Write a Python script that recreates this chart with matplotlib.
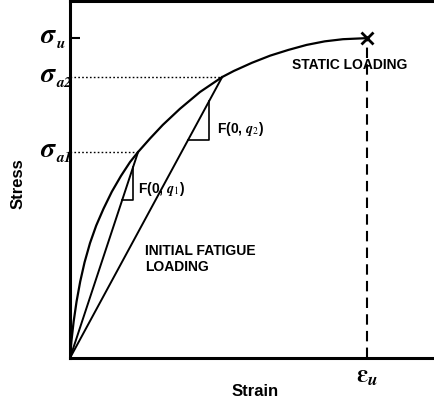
import matplotlib
matplotlib.use("Agg")
import matplotlib.pyplot as plt

plt.rcParams['font.family'] = ['Liberation Sans', 'DejaVu Sans']
plt.rcParams['mathtext.fontset'] = 'stix'

# Static loading curve (normalised strain / stress)
strain_static = [0.0, 0.004, 0.010, 0.018, 0.028, 0.040, 0.055, 0.072, 0.092, 0.115,
                 0.140, 0.165, 0.187, 0.220, 0.255, 0.302, 0.357, 0.418, 0.45,
                 0.50, 0.55, 0.60, 0.65, 0.70, 0.75, 0.816]
stress_static = [0.0, 0.048, 0.102, 0.158, 0.214, 0.268, 0.322, 0.371, 0.418, 0.466,
                 0.510, 0.549, 0.577, 0.615, 0.653, 0.698, 0.745, 0.787, 0.804,
                 0.827, 0.847, 0.863, 0.877, 0.887, 0.893, 0.896]

eps_u = 0.816
sigma_u = 0.896

# Fatigue loading peaks (sigma_a1, sigma_a2)
fatigue_strain = [0.187, 0.418]
fatigue_stress = [0.577, 0.787]
fatigue_labels = [r'F(0, $\mathbfit{q}_1$)', r'F(0, $\mathbfit{q}_2$)']

# slope triangles (x-range along each fatigue line)
tri_x0 = [0.143, 0.324]
tri_x1 = [0.173, 0.382]

ytick_values = [fatigue_stress[0], fatigue_stress[1], sigma_u]
ytick_subscripts = ['a1', 'a2', 'u']
xtick_labels = [r'$\boldsymbol{\varepsilon}_{\boldsymbol{u}}$']

fig = plt.figure(figsize=(4.34, 4.03), dpi=100)
ax = fig.add_axes([70/434, 45/403, 364/434, 357/403])
ax.set_xlim(0, 1)
ax.set_ylim(0, 1)

lw_axis = 2.2
for s in ['left', 'bottom', 'top']:
    ax.spines[s].set_linewidth(lw_axis)
ax.spines['right'].set_visible(False)

# static curve
ax.plot(strain_static, stress_static, color='black', lw=1.6,
        solid_capstyle='round', solid_joinstyle='round')
ax.plot([eps_u], [sigma_u], marker='x', color='black', ms=9, mew=2)
ax.plot([eps_u, eps_u], [0, sigma_u], color='black', lw=1.5, dashes=(5, 3))

# fatigue lines
for e, s, x0, x1 in zip(fatigue_strain, fatigue_stress, tri_x0, tri_x1):
    ax.plot([0, e], [0, s], color='black', lw=1.4)
    k = s / e
    ax.plot([x0, x1, x1], [k * x0, k * x0, k * x1], color='black', lw=1.2)
    ax.plot([0, e], [s, s], color='black', lw=1.0, ls=(0, (1.2, 1.6)))

# texts
ax.text(0.610, 0.821, 'STATIC LOADING', fontsize=10, fontweight='bold',
        ha='left', va='center')
ax.text(0.404, 0.641, fatigue_labels[1], fontsize=10, fontweight='bold',
        ha='left', va='center')
ax.text(0.187, 0.473, fatigue_labels[0], fontsize=10, fontweight='bold',
        ha='left', va='center')
ax.text(0.206, 0.277, 'INITIAL FATIGUE\nLOADING', fontsize=10, fontweight='bold',
        ha='left', va='center', linespacing=1.15)

# y ticks: only the sigma_u tick mark is drawn; labels are left-aligned
ax.set_yticks(ytick_values)
ax.set_yticklabels([''] * len(ytick_values))
ax.tick_params(axis='y', direction='in', length=7, width=1.5)
yt = ax.yaxis.get_major_ticks()
yt[0].tick1line.set_visible(False)
yt[1].tick1line.set_visible(False)
ytr = ax.get_yaxis_transform()
for v, sub in zip(ytick_values, ytick_subscripts):
    ax.text((40 - 70) / 364, v - 0.013, r'$\boldsymbol{\sigma}$', transform=ytr,
            fontsize=20, ha='left', va='baseline', clip_on=False)
    ax.text((56 - 70) / 364, v - 0.029, r'$\mathbfit{' + sub + '}$', transform=ytr,
            fontsize=11, ha='left', va='baseline', clip_on=False)

ax.set_xticks([eps_u])
ax.set_xticklabels(xtick_labels, fontsize=18)
ax.tick_params(axis='x', length=0, pad=4)

ax.set_xlabel('Strain', fontsize=12, fontweight='bold')
ax.xaxis.set_label_coords((255 - 70) / 364, (358 - 392) / 357)
ax.xaxis.label.set_va('center')
ax.set_ylabel('Stress', fontsize=12, fontweight='bold')
ax.yaxis.set_label_coords((18 - 70) / 364, (358 - 184) / 357)
ax.yaxis.label.set_va('center')

fig.savefig('out.png', dpi=100)
